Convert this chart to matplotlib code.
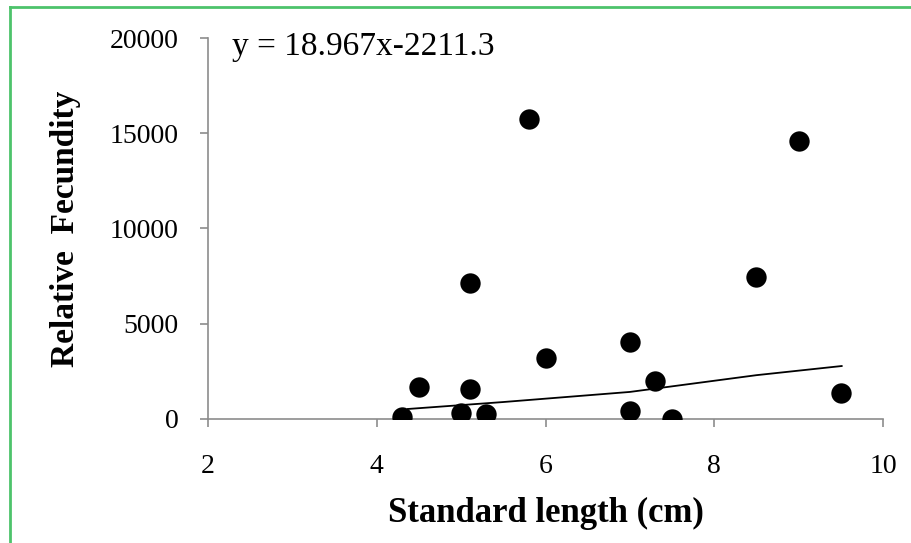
import matplotlib
matplotlib.use("Agg")
import matplotlib.pyplot as plt
from matplotlib.lines import Line2D

# Data
standard_length = [4.3, 4.5, 5.0, 5.1, 5.3, 5.1, 5.8, 6.0, 7.0, 7.0, 7.3, 7.5, 8.5, 9.0, 9.5]
relative_fecundity = [100, 1680, 310, 1560, 260, 7140, 15750, 3200, 4040, 420, 2000, 0, 7450, 14600, 1360]

trend_x = [4.37, 5.5, 7.0, 8.5, 9.51]
trend_y = [525, 890, 1420, 2300, 2780]

x_ticks = [2, 4, 6, 8, 10]
y_ticks = [0, 5000, 10000, 15000, 20000]
equation = "y = 18.967x-2211.3"

plt.rcParams['font.family'] = ['Liberation Serif', 'DejaVu Serif']

fig = plt.figure(figsize=(9.11, 5.43), dpi=100)
ax = fig.add_axes([0.2283, 0.2284, 0.9693 - 0.2283, 0.930 - 0.2284])

ax.scatter(standard_length, relative_fecundity, s=215, color='black', zorder=3, linewidths=0)
ax.plot(trend_x, trend_y, color='black', linewidth=1.3, zorder=2)

ax.set_xlim(2, 10)
ax.set_ylim(0, 20000)
ax.set_xticks(x_ticks)
ax.set_yticks(y_ticks)
ax.set_xticklabels([str(v) for v in x_ticks])
ax.set_yticklabels([str(v) for v in y_ticks])

for s in ['top', 'right']:
    ax.spines[s].set_visible(False)
for s in ['left', 'bottom']:
    ax.spines[s].set_color('#8c8c8c')
    ax.spines[s].set_linewidth(1.2)
ax.tick_params(axis='both', colors='#8c8c8c', length=6, width=1.2, direction='out',
               labelsize=20, labelcolor='black')
ax.tick_params(axis='x', pad=19)
ax.tick_params(axis='y', pad=15)

ax.set_xlabel("Standard length (cm)", fontsize=25, fontweight='bold', labelpad=13)
ax.set_ylabel("Relative  Fecundity", fontsize=24, fontweight='bold', labelpad=21)

ax.text(0.036, 0.976, equation, transform=ax.transAxes, fontsize=24, va='center', ha='left')

green = '#4dc36b'
fig.add_artist(Line2D([9.5 / 911, 1.0], [1 - 6.5 / 543, 1 - 6.5 / 543], transform=fig.transFigure,
                      color=green, linewidth=2.0))
fig.add_artist(Line2D([9.5 / 911, 9.5 / 911], [0.0, 1 - 6.5 / 543], transform=fig.transFigure,
                      color=green, linewidth=2.0))

fig.savefig("out.png", dpi=100)
